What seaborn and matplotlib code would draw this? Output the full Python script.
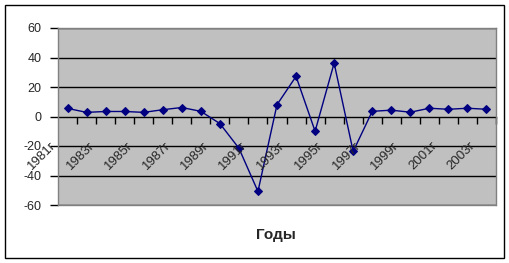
import matplotlib
matplotlib.use('Agg')
import matplotlib.pyplot as plt
import seaborn as sns
import pandas as pd
from matplotlib.patches import Rectangle

years = ["1981г", "1982г", "1983г", "1984г", "1985г", "1986г", "1987г", "1988г",
         "1989г", "1990г", "1991г", "1992г", "1993г", "1994г", "1995г", "1996г",
         "1997г", "1998г", "1999г", "2000г", "2001г", "2002г", "2003г"]
values = [5.5, 2.8, 3.4, 3.4, 2.8, 4.6, 6.1, 3.5, -4.8, -21.5, -50.8, 8.0, 27.2,
          -10.0, 36.2, -23.7, 3.5, 4.3, 2.9, 5.6, 4.9, 5.6, 4.9]
y_ticks = [-60, -40, -20, 0, 20, 40, 60]
x_title = "Годы"

sns.set_style("white")
plt.rcParams['font.family'] = ['Liberation Sans', 'DejaVu Sans']

df = pd.DataFrame({"idx": list(range(len(years))), "year": years, "value": values})

W, H = 510, 263
fig = plt.figure(figsize=(W / 100, H / 100), dpi=100)
fig.patch.set_facecolor('white')
ax = fig.add_axes([58 / W, 1 - 205 / H, (496 - 58) / W, (205 - 28) / H])
ax.set_facecolor('#C0C0C0')

# grid lines
for yv in y_ticks:
    if yv in (0,):
        continue
    ax.axhline(yv, color='black', lw=1, zorder=1)

sns.lineplot(data=df, x="idx", y="value", ax=ax, color='#000080', lw=1,
             marker='D', markersize=4.5, markeredgecolor='#000080',
             markerfacecolor='#000080', zorder=3)

ax.set_xlim(-0.5, len(years) - 0.5)
ax.set_ylim(-60, 60)

for s in ['top', 'right', 'left']:
    ax.spines[s].set_color('#808080')
    ax.spines[s].set_linewidth(1)
ax.spines['bottom'].set_position(('data', 0))
ax.spines['bottom'].set_color('black')
ax.spines['bottom'].set_linewidth(1)
ax.spines['bottom'].set_zorder(2)
# bottom border of plot area
ax.plot([0, 1], [0, 0], transform=ax.transAxes, color='#808080', lw=1, clip_on=False, zorder=2)

ax.set_yticks(y_ticks)
ax.set_yticklabels([str(v) for v in y_ticks], fontsize=9)
ax.tick_params(axis='y', left=True, length=6, width=1, color='black', pad=6)

ax.set_xticks([i + 0.5 for i in range(len(years) - 1)] + [len(years) - 0.5])
ax.set_xticklabels([])
ax.tick_params(axis='x', bottom=True, direction='out', length=5, width=1, color='black')

for i, lab in enumerate(years):
    if i % 2 == 0:
        ax.annotate(lab, xy=(i, 0), xycoords='data',
                    xytext=(-17 * 0.72, -23 * 0.72), textcoords='offset points',
                    rotation=45, ha='right', va='top', rotation_mode='anchor',
                    fontsize=9.5, zorder=4, annotation_clip=False)

ax.set_xlabel("")
ax.set_ylabel("")
fig.text(276 / W, 1 - 235 / H, x_title, ha='center', va='center',
         fontsize=11, fontweight='bold')

fig.patches.append(Rectangle((5 / W, 5 / H), (504 - 5) / W, (258 - 5) / H,
                             transform=fig.transFigure, fill=False,
                             edgecolor='black', lw=1))

fig.savefig('out.png', dpi=100)
